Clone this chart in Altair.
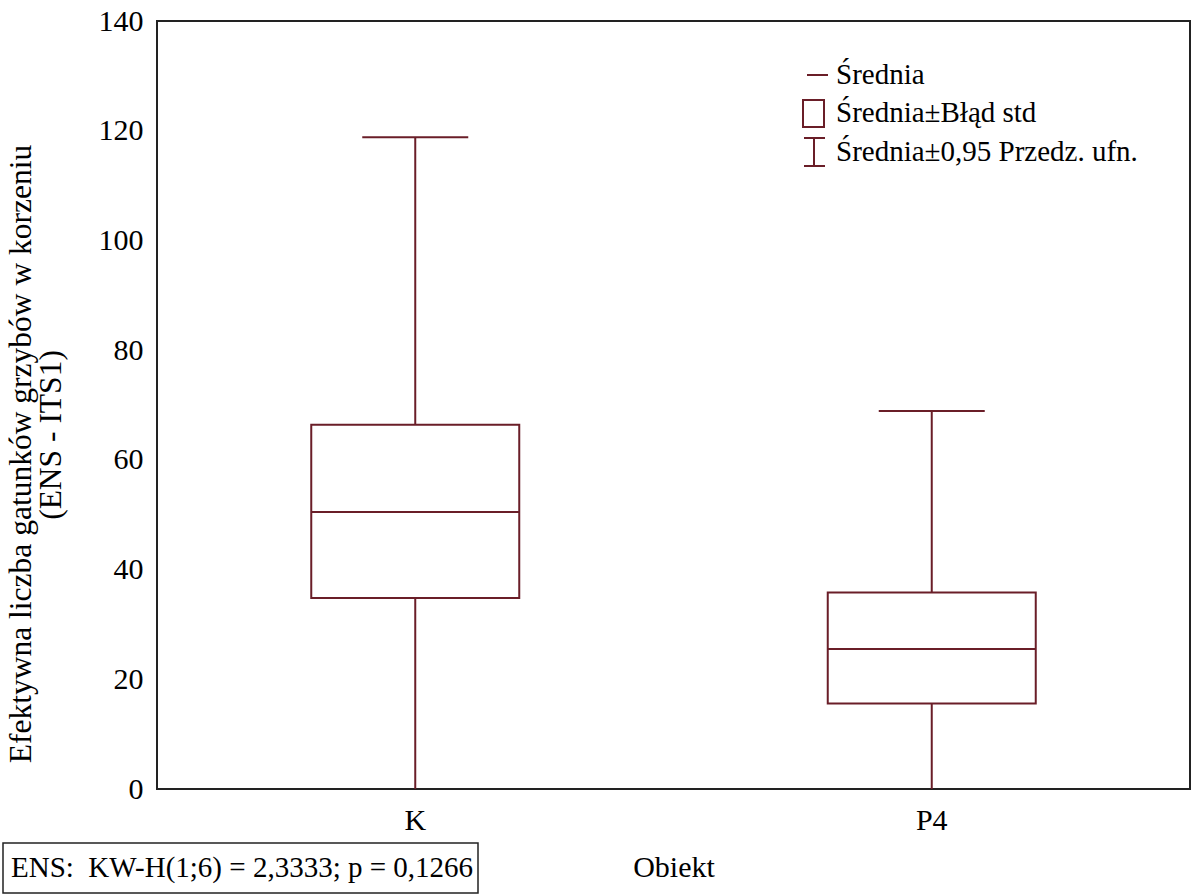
import altair as alt
import pandas as pd

groups = ["K", "P4"]
means = [50.5, 25.5]
se_low = [34.8, 15.6]
se_high = [66.4, 35.8]
ci_low = [-17.8, -17.9]
ci_high = [118.8, 68.9]
y_ticks = [0, 20, 40, 60, 80, 100, 120, 140]

y_title = ["Efektywna liczba gatunków grzybów w korzeniu", "(ENS - ITS1)"]
x_title = "Obiekt"
stats_text = "ENS:\u00a0 KW-H(1;6) = 2,3333; p = 0,1266"
legend_labels = ["Średnia", "Średnia±Błąd std", "Średnia±0,95 Przedz. ufn."]

FONT = "Liberation Serif, Times New Roman, serif"
COL = "#6a1e28"
W, H = 1033, 768

df = pd.DataFrame({
    "group": groups, "mean": means, "se_low": se_low, "se_high": se_high,
    "ci_low": ci_low, "ci_high": ci_high,
})

xenc = alt.X("group:N", sort=groups,
             scale=alt.Scale(paddingInner=0, paddingOuter=0),
             axis=alt.Axis(title=None, labelAngle=0, domain=False, ticks=False, grid=False,
                           labelFont=FONT, labelFontSize=30, labelColor="black",
                           labelPadding=16))
yscale = alt.Scale(domain=[0, 140], nice=False, zero=False)
yaxis = alt.Axis(title=None, values=y_ticks, domain=False, ticks=False, grid=False,
                 labelFont=FONT, labelFontSize=30, labelColor="black", labelPadding=14)

base = alt.Chart(df)
whisker = base.mark_rule(color=COL, strokeWidth=2, clip=True, opacity=1).encode(
    x=xenc, y=alt.Y("ci_low:Q", scale=yscale, axis=yaxis), y2="ci_high:Q")
cap = base.mark_tick(color=COL, size=106, thickness=2, opacity=1).encode(
    x=xenc, y=alt.Y("ci_high:Q", scale=yscale))
box = base.mark_bar(size=208, fill="white", stroke=COL, strokeWidth=2, opacity=1).encode(
    x=xenc, y=alt.Y("se_low:Q", scale=yscale), y2="se_high:Q")
mean_line = base.mark_tick(color=COL, size=208, thickness=2, opacity=1).encode(
    x=xenc, y=alt.Y("mean:Q", scale=yscale))

def txt(s, x, y, size=30, angle=0, align="center"):
    return alt.Chart(pd.DataFrame({"t": [s]})).mark_text(
        font=FONT, fontSize=size, color="black", angle=angle, align=align,
        baseline="middle").encode(text="t:N", x=alt.value(x), y=alt.value(y))

# axis titles
ytitle1 = txt(y_title[0], -135, 433, size=31.5, angle=270)
ytitle2 = txt(y_title[1], -105, 414, size=31.5, angle=270)
xtitle = txt(x_title, 517, 847)

# stats box
stats_rect = alt.Chart(pd.DataFrame({"a": [0]})).mark_rect(
    fill="white", stroke="#222", strokeWidth=1.5).encode(
    x=alt.value(-154), x2=alt.value(321), y=alt.value(822), y2=alt.value(872))
stats = txt(stats_text, -146, 847, size=29, align="left")

# legend
one = pd.DataFrame({"a": [0]})
leg_line = alt.Chart(one).mark_rule(color=COL, strokeWidth=2).encode(
    x=alt.value(650), x2=alt.value(671), y=alt.value(54))
leg_box = alt.Chart(one).mark_rect(
    fill="white", stroke=COL, strokeWidth=2).encode(
    x=alt.value(646), x2=alt.value(667), y=alt.value(79), y2=alt.value(106))
leg_i = alt.Chart(one).mark_rule(color=COL, strokeWidth=2).encode(
    x=alt.value(657), y=alt.value(117), y2=alt.value(145))
leg_i_top = alt.Chart(one).mark_rule(color=COL, strokeWidth=2).encode(
    x=alt.value(647), x2=alt.value(668), y=alt.value(117))
leg_i_bot = alt.Chart(one).mark_rule(color=COL, strokeWidth=2).encode(
    x=alt.value(647), x2=alt.value(668), y=alt.value(145))
leg_t1 = txt(legend_labels[0], 679, 54, size=29, align="left")
leg_t2 = txt(legend_labels[1], 679, 92, size=29, align="left")
leg_t3 = txt(legend_labels[2], 679, 131, size=29, align="left")

chart = alt.layer(
    whisker, box, mean_line, cap,
    ytitle1, ytitle2, xtitle, stats_rect, stats,
    leg_line, leg_box, leg_i, leg_i_top, leg_i_bot, leg_t1, leg_t2, leg_t3,
).properties(
    width=W, height=H,
    autosize=alt.AutoSizeParams(type="none"),
    padding={"left": 157, "top": 21, "right": 2, "bottom": 106},
    background="white",
).configure_view(stroke="#222", strokeWidth=2)

chart.save("out.html", embed_options={"renderer": "svg", "actions": False})
